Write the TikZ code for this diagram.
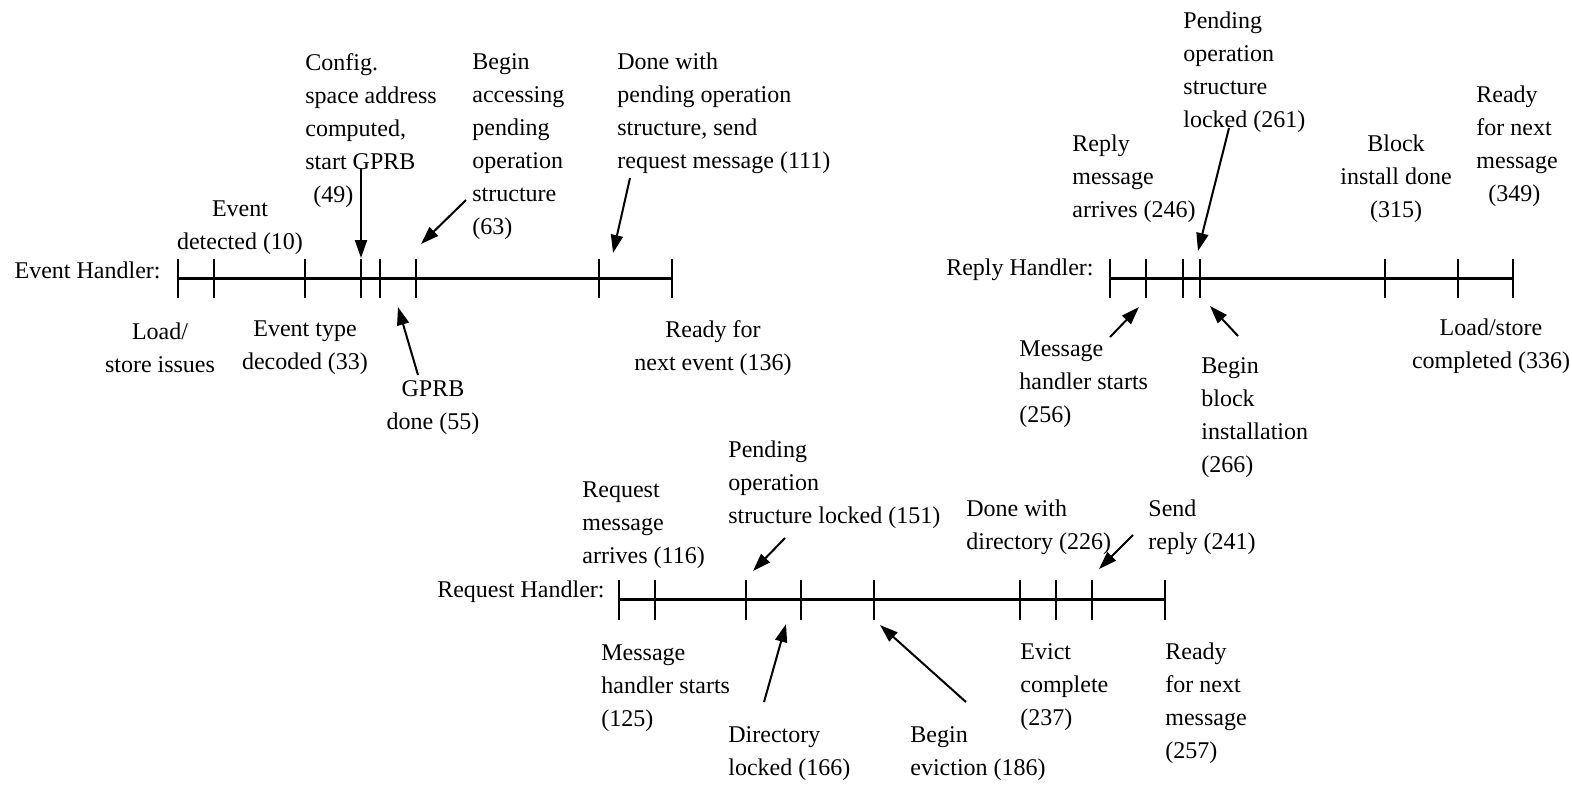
\documentclass[tikz,border=0pt]{standalone}
\usepackage{fontspec}
\setmainfont{Liberation Serif}
\usetikzlibrary{arrows.meta}
\begin{document}
\begin{tikzpicture}[x=0.5pt,y=-0.5pt,
  txt/.style={inner sep=0pt, font=\fontsize{12}{16.5}\selectfont},
  lbl/.style={txt, align=left, anchor=west},
  clbl/.style={txt, align=center},
  hlabel/.style={txt, anchor=east},
  axis/.style={line width=1.5pt},
  tickmark/.style={line width=1.1pt},
  ptr/.style={line width=1pt, -{Triangle[length=9pt,width=6pt]}}
]
\useasboundingbox (0,0) rectangle (1572,784);

% ---------------- Event handler ----------------
\node[hlabel] (eh) at (161,270) {Event Handler:};
\foreach \x [count=\i] in {178,214,305,361,380,416,599,672} {
  \draw[tickmark] (\x,259) -- (\x,298);
  \coordinate (e\i) at (\x,278);
}
\draw[axis] (e1) -- (e8);

\node[clbl] (edet) at (240,228) {Event\\detected (10)};
\node[lbl] (ecfg) at (305,131) {Config.\\space address\\computed,\\start GPRB\\\hspace*{4pt}(49)};
\node[lbl] (ebeg) at (472,147) {Begin\\accessing\\pending\\operation\\structure\\(63)};
\node[lbl] (edone) at (617,113) {Done with\\pending operation\\structure, send\\request message (111)};
\node[clbl] (eload) at (160,348) {Load/\\store issues};
\node[clbl] (etype) at (305,348) {Event type\\decoded (33)};
\node[clbl] (egprb) at (433,408) {GPRB\\done (55)};
\node[clbl] (eready) at (713,348) {Ready for\\next event (136)};

\coordinate (cfgtail) at (361,168);  \coordinate (cfgtip) at (361,258);
\coordinate (begtail) at (466,200);  \coordinate (begtip) at (421,244);
\coordinate (donetail) at (630,178); \coordinate (donetip) at (613,253);
\coordinate (gprbtail) at (418,375); \coordinate (gprbtip) at (398,307);
\draw[ptr] (cfgtail) -- (cfgtip);
\draw[ptr] (begtail) -- (begtip);
\draw[ptr] (donetail) -- (donetip);
\draw[ptr] (gprbtail) -- (gprbtip);

% ---------------- Reply handler ----------------
\node[hlabel] (rh) at (1094,270) {Reply Handler:};
\foreach \x [count=\i] in {1110,1146,1183,1200,1385,1458,1513} {
  \draw[tickmark] (\x,259) -- (\x,298);
  \coordinate (r\i) at (\x,278);
}
\draw[axis] (r1) -- (r7);

\node[lbl] (rpend) at (1183,72) {Pending\\operation\\structure\\locked (261)};
\node[lbl] (rarr) at (1072,179) {Reply\\message\\arrives (246)};
\node[clbl] (rblk) at (1396,179) {Block\\install done\\(315)};
\node[lbl] (rready) at (1476,146) {Ready\\for next\\message\\\hspace*{6pt}(349)};
\node[clbl] (rload) at (1491,346) {Load/store\\completed (336)};
\node[lbl] (rmsg) at (1019,384) {Message\\handler starts\\(256)};
\node[lbl] (rbeg) at (1201,418) {Begin\\block\\installation\\(266)};

\coordinate (pendtail) at (1229,128); \coordinate (pendtip) at (1198,251);
\coordinate (rmsgtail) at (1110,337); \coordinate (rmsgtip) at (1139,307);
\coordinate (rbegtail) at (1238,336); \coordinate (rbegtip) at (1210,306);
\draw[ptr] (pendtail) -- (pendtip);
\draw[ptr] (rmsgtail) -- (rmsgtip);
\draw[ptr] (rbegtail) -- (rbegtip);

% ---------------- Request handler ----------------
\node[hlabel] (qh) at (605,592) {Request Handler:};
\foreach \x [count=\i] in {619,655,746,801,874,1020,1056,1092,1165} {
  \draw[tickmark] (\x,580) -- (\x,620);
  \coordinate (q\i) at (\x,599);
}
\draw[axis] (q1) -- (q9);

\node[lbl] (qreq) at (582,525) {Request\\message\\arrives (116)};
\node[lbl] (qpend) at (728,485) {Pending\\operation\\structure locked (151)};
\node[lbl] (qdir) at (966,527) {Done with\\directory (226)};
\node[lbl] (qsend) at (1148,527) {Send\\reply (241)};
\node[lbl] (qmsg) at (601,688) {Message\\handler starts\\(125)};
\node[lbl] (qlock) at (728,754) {Directory\\locked (166)};
\node[lbl] (qevb) at (910,754) {Begin\\eviction (186)};
\node[lbl] (qevc) at (1020,687) {Evict\\complete\\(237)};
\node[lbl] (qready) at (1165,703) {Ready\\for next\\message\\(257)};

\coordinate (qpendtail) at (785,538); \coordinate (qpendtip) at (753,571);
\coordinate (qsendtail) at (1133,535); \coordinate (qsendtip) at (1099,569);
\coordinate (qlocktail) at (764,702); \coordinate (qlocktip) at (786,624);
\coordinate (qevbtail) at (966,702);  \coordinate (qevbtip) at (880,625);
\draw[ptr] (qpendtail) -- (qpendtip);
\draw[ptr] (qsendtail) -- (qsendtip);
\draw[ptr] (qlocktail) -- (qlocktip);
\draw[ptr] (qevbtail) -- (qevbtip);
\end{tikzpicture}
\end{document}
